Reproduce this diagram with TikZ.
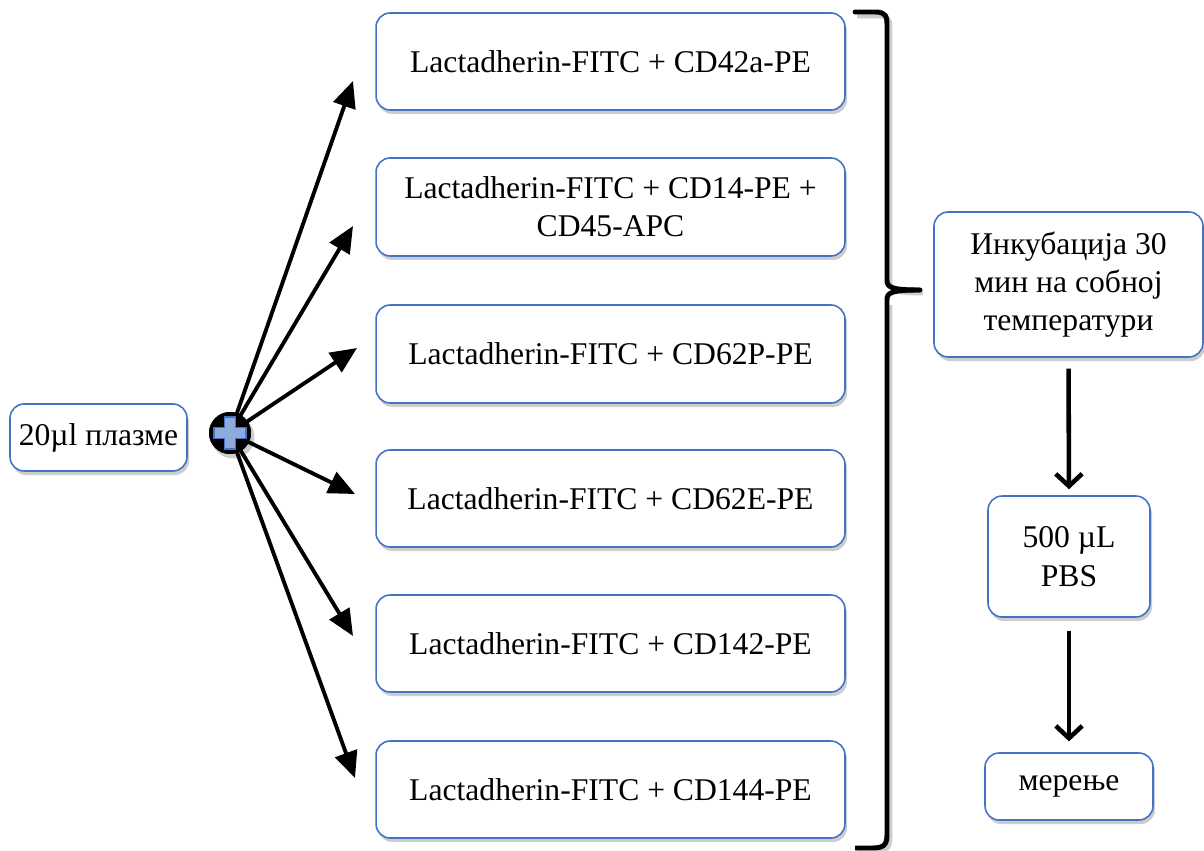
\documentclass[tikz,border=0pt]{standalone}
\usepackage{fontspec}
\setmainfont{Liberation Serif}
\usetikzlibrary{arrows.meta,calc}
\definecolor{boxblue}{RGB}{68,114,196}
\definecolor{plusfill}{RGB}{142,169,219}
\definecolor{shadowgray}{RGB}{205,205,205}
\tikzset{
  px/.style={x=0.02cm,y=-0.02cm},
  labelbox/.style={draw=boxblue, line width=0.9pt, fill=white, rounded corners=8pt,
    align=center, inner sep=2pt, font=\fontsize{18}{21.8}\selectfont},
  fanarrow/.style={line width=2.2pt, -{Triangle[length=15pt,width=13pt]}},
  downarrow/.style={line width=2.6pt, -{Straight Barb[length=7pt,width=15pt,line width=2.6pt]}},
}
\begin{document}
\begin{tikzpicture}[px]
\useasboundingbox (0,0) rectangle (1204,851);

% soft grey shadows under the boxes
\foreach \cx/\cy/\w/\h in {98.5/437.5/177/67, 610.5/61.5/469/97, 610.5/207/469/98,
  610.5/354/469/98, 610.5/498.5/469/97, 610.5/643.5/469/97, 610.5/789.5/469/97,
  1068.5/284.5/269/145, 1069/556.5/162/121, 1069/786.5/168/67}{
  \fill[shadowgray, rounded corners=8pt] (\cx-\w/2+2,\cy-\h/2+4) rectangle (\cx+\w/2+2,\cy+\h/2+4);
}

% sample box on the left
\node[labelbox, minimum width=3.54cm, minimum height=1.34cm] (plasma) at (98.5,437.5) {20µl плазме};

% antibody combinations
\node[labelbox, minimum width=9.38cm, minimum height=1.94cm] (c1) at (610.5,61.5) {Lactadherin-FITC + CD42a-PE};
\node[labelbox, minimum width=9.38cm, minimum height=1.96cm] (c2) at (610.5,207) {Lactadherin-FITC + CD14-PE +\\CD45-APC};
\node[labelbox, minimum width=9.38cm, minimum height=1.96cm] (c3) at (610.5,354) {Lactadherin-FITC + CD62P-PE};
\node[labelbox, minimum width=9.38cm, minimum height=1.94cm] (c4) at (610.5,498.5) {Lactadherin-FITC + CD62E-PE};
\node[labelbox, minimum width=9.38cm, minimum height=1.94cm] (c5) at (610.5,643.5) {Lactadherin-FITC + CD142-PE};
\node[labelbox, minimum width=9.38cm, minimum height=1.94cm] (c6) at (610.5,789.5) {Lactadherin-FITC + CD144-PE};

% processing steps on the right
\node[labelbox, minimum width=5.38cm, minimum height=2.9cm] (inc) at (1068.5,284.5) {Инкубација 30\\мин на собној\\температури};
\node[labelbox, minimum width=3.24cm, minimum height=2.42cm] (pbs) at (1069,556.5) {500 µL\\PBS};
\node[labelbox, minimum width=3.36cm, minimum height=1.34cm] (meas) at (1069,786.5) {мерење};

% arrow tips of the fan
\coordinate (t1) at (353,81);
\coordinate (t2) at (353,226);
\coordinate (t3) at (357,348);
\coordinate (t4) at (355,494);
\coordinate (t5) at (353,636);
\coordinate (t6) at (355,778);

% plus junction
\fill[shadowgray] (233,437) circle [radius=0.43cm];
\node[circle, fill=black, minimum size=0.84cm, inner sep=0pt] (plus) at (230,433) {};
\foreach \t in {t1,t2,t3,t4,t5,t6} \draw[fanarrow] (plus.center) -- (\t);
\fill[black] (plus.center) circle [radius=0.42cm];
\filldraw[fill=plusfill, draw=boxblue, line width=0.7pt]
  (224.5,417) -- (235.5,417) -- (235.5,427.5) -- (246,427.5) -- (246,438.5) -- (235.5,438.5) -- (235.5,449)
  -- (224.5,449) -- (224.5,438.5) -- (214,438.5) -- (214,427.5) -- (224.5,427.5) -- cycle;

% brace grouping the six tubes
\coordinate (b0) at (855,12);
\coordinate (bm) at (920,290);
\coordinate (b1) at (855,848);
\draw[shadowgray, line width=2.8pt, line join=round]
  (857,16) -- (877,16) .. controls (889,16) and (890,20) .. (890,30) -- (890,282)
  .. controls (890,290) and (893,293) .. (923,293);
\draw[shadowgray, line width=2.8pt]
  (890,305) -- (890,838) .. controls (890,848) and (886,851) .. (875,851) -- (857,851);
\draw[black, line width=2.8pt, line join=round, line cap=round]
  (b0) -- (875,12) .. controls (886,12) and (887,16) .. (887,26) -- (887,280)
  .. controls (887,287) and (890,290) .. (bm);
\draw[black, line width=2.8pt, line join=round]
  (bm) .. controls (890,290) and (887,293) .. (887,300) -- (887,834)
  .. controls (887,845) and (884,848) .. (872,848) -- (b1);

% sequence of steps
\draw[downarrow, shorten <=6.2pt, shorten >=3.4pt] (inc.south) -- (pbs.north);
\draw[downarrow, shorten <=7.4pt, shorten >=6.2pt] (pbs.south) -- (meas.north);
\end{tikzpicture}
\end{document}
